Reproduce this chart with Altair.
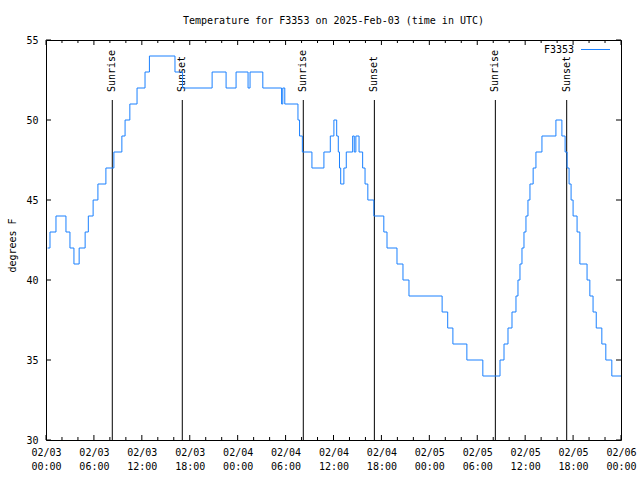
import altair as alt
import pandas as pd

TITLE = "Temperature for F3353 on 2025-Feb-03 (time in UTC)"
SERIES = "F3353"
Y_TITLE = "degrees F"
FONT = "DejaVu Sans Mono"
LINE_COLOR = "#1a80ff"

# hours after 2025-02-03 00:00 UTC, and temperature (deg F) from that time on
hours = [0.2, 0.5, 1.25, 2.5, 3.0, 3.5, 4.15, 4.9, 5.3, 5.9, 6.5, 7.5, 8.5, 9.5, 9.9,
         10.5, 11.4, 12.4, 12.95, 16.15, 17.1, 20.8, 22.55, 23.8, 25.3, 25.55, 27.15,
         29.5, 29.65, 29.9, 31.55, 31.75, 32.1, 33.3, 34.8, 35.6, 36.05, 36.4, 36.6,
         36.75, 36.9, 37.3, 37.6, 38.4, 38.6, 38.8, 39.2, 39.65, 39.95, 40.3, 41.05,
         42.3, 42.7, 43.95, 44.7, 45.45, 49.6, 50.3, 50.95, 52.7, 54.7, 56.85, 57.35,
         57.85, 58.35, 58.85, 59.1, 59.35, 59.6, 59.85, 60.1, 60.35, 60.6, 61.0, 61.35,
         62.1, 63.85, 64.6, 65.0, 65.25, 65.5, 65.75, 66.0, 66.5, 66.85, 67.75, 68.1,
         68.5, 68.9, 69.6, 70.1, 70.85, 72.0]
temps = [42, 43, 44, 43, 42, 41, 42, 43, 44, 45, 46, 47, 48, 49, 50,
         51, 52, 53, 54, 53, 52, 53, 52, 53, 52, 53, 52,
         51, 52, 51, 50, 49, 48, 47, 48, 49, 50, 49, 48,
         47, 46, 47, 48, 49, 48, 49, 48, 47, 46, 45, 44,
         43, 42, 41, 40, 39, 38, 37, 36, 35, 34, 35, 36,
         37, 38, 39, 40, 41, 42, 43, 44, 45, 46, 47, 48,
         49, 50, 49, 48, 47, 46, 45, 44, 43, 41, 40, 39,
         38, 37, 36, 35, 34, 34]

sun_labels = ["Sunrise", "Sunset", "Sunrise", "Sunset", "Sunrise", "Sunset"]
sun_times = ["2025-02-03T08:18:00Z", "2025-02-03T17:04:00Z",
             "2025-02-04T08:13:00Z", "2025-02-04T17:07:00Z",
             "2025-02-05T08:16:00Z", "2025-02-05T17:12:00Z"]

x_major_hours = list(range(0, 73, 6))
x_minor_hours = [h for h in range(0, 73, 2) if h % 6 != 0]
y_ticks = [30, 35, 40, 45, 50, 55]
y_min, y_max = 30, 55

base = pd.Timestamp("2025-02-03T00:00:00", tz="UTC")


def iso(h):
    return (base + pd.Timedelta(hours=h)).strftime("%Y-%m-%dT%H:%M:%SZ")


def dt(h):
    h = int(h)
    return alt.DateTime(year=2025, month=2, date=3 + h // 24, hours=h % 24, utc=True)


line_df = pd.DataFrame({"t": [iso(h) for h in hours], "temp": temps})
sun_df = pd.DataFrame({"t": sun_times, "label": sun_labels})
major_df = pd.DataFrame({"t": [iso(h) for h in x_major_hours]})
minor_df = pd.DataFrame({"t": [iso(h) for h in x_minor_hours]})
ytick_df = pd.DataFrame({"temp": y_ticks})
title_df = pd.DataFrame({"text": [TITLE]})
legend_df = pd.DataFrame({"text": [SERIES]})

x_scale = alt.Scale(type="utc", domain=[dt(0), dt(72)])
y_scale = alt.Scale(domain=[y_min, y_max], nice=False, zero=False)

x_axis = alt.Axis(
    values=[dt(h) for h in x_major_hours],
    labelExpr="[utcFormat(datum.value, '%m/%d'), utcFormat(datum.value, '%H:%M')]",
    title=None, ticks=False, domain=False, grid=False,
    labelFont=FONT, labelFontSize=10, labelColor="black",
    labelPadding=7, labelLineHeight=14, labelOverlap=False, labelFlush=False,
)
y_axis = alt.Axis(
    values=y_ticks, title=Y_TITLE, ticks=False, domain=False, grid=False,
    labelFont=FONT, labelFontSize=10, labelColor="black", labelPadding=8,
    titleFont=FONT, titleFontSize=10, titleFontWeight="normal", titleColor="black",
    titleX=-34, titleY=205, titleAngle=270, titleAlign="center", titleBaseline="middle",
)

X = alt.X("t:T", scale=x_scale, axis=x_axis)
Y = alt.Y("temp:Q", scale=y_scale, axis=y_axis)

line = alt.Chart(line_df).mark_line(
    interpolate="step-after", color=LINE_COLOR, strokeWidth=1
).encode(x=X, y=Y)

sun_rules = alt.Chart(sun_df).mark_rule(color="black", strokeWidth=1).encode(
    x=X, y=alt.value(60), y2=alt.value(400)
)
sun_text = alt.Chart(sun_df).mark_text(
    angle=270, align="left", baseline="middle", font=FONT, fontSize=10, color="black"
).encode(x=X, y=alt.value(52), text="label:N")

tick_style = dict(color="black", strokeWidth=1)
bottom_major = alt.Chart(major_df).mark_rule(**tick_style).encode(
    x=X, y=alt.value(400), y2=alt.value(395))
top_major = alt.Chart(major_df).mark_rule(**tick_style).encode(
    x=X, y=alt.value(0), y2=alt.value(5))
bottom_minor = alt.Chart(minor_df).mark_rule(**tick_style).encode(
    x=X, y=alt.value(400), y2=alt.value(397))
top_minor = alt.Chart(minor_df).mark_rule(**tick_style).encode(
    x=X, y=alt.value(0), y2=alt.value(3))
left_ticks = alt.Chart(ytick_df).mark_rule(**tick_style).encode(
    y=Y, x=alt.value(0), x2=alt.value(5))
right_ticks = alt.Chart(ytick_df).mark_rule(**tick_style).encode(
    y=Y, x=alt.value(570), x2=alt.value(575))

title = alt.Chart(title_df).mark_text(
    font=FONT, fontSize=10, color="black", align="center", baseline="middle"
).encode(x=alt.value(287.5), y=alt.value(-19), text="text:N")

legend_text = alt.Chart(legend_df).mark_text(
    font=FONT, fontSize=10, color="black", align="right", baseline="middle"
).encode(x=alt.value(528), y=alt.value(10), text="text:N")
legend_line = alt.Chart(legend_df).mark_rule(color=LINE_COLOR, strokeWidth=1).encode(
    x=alt.value(535), x2=alt.value(564), y=alt.value(9.5))

chart = alt.layer(
    bottom_major, top_major, bottom_minor, top_minor, left_ticks, right_ticks,
    sun_rules, sun_text, line, title, legend_text, legend_line,
).properties(
    width=575, height=400,
    padding={"left": 46, "top": 40, "right": 19, "bottom": 40},
    autosize=alt.AutoSizeParams(type="none"),
    background="white",
).configure_view(stroke="black", strokeWidth=1)

chart.save("out.html", embed_options={"renderer": "svg", "actions": False})
